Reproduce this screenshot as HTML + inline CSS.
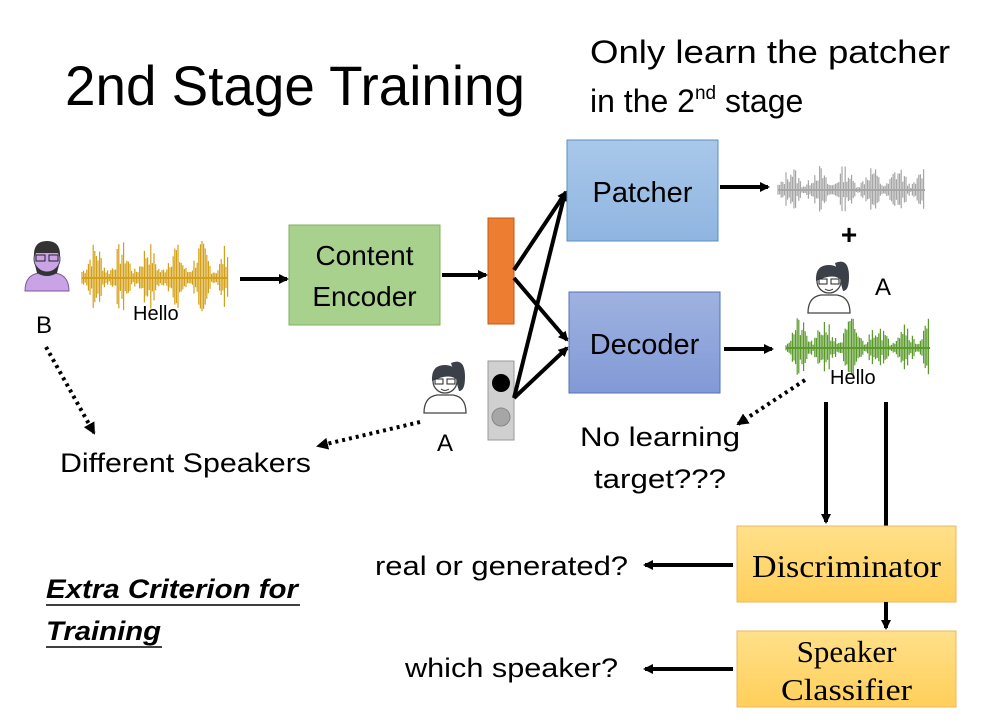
<!DOCTYPE html>
<html><head><meta charset="utf-8"><style>
html,body{margin:0;padding:0;background:#fff;}
svg{display:block;font-family:"Liberation Sans",sans-serif;}
</style></head><body>
<svg id="s" width="992" height="728" viewBox="0 0 992 728" xmlns="http://www.w3.org/2000/svg">
<defs>
<marker id="ah" markerWidth="10" markerHeight="10" refX="8" refY="5" orient="auto" markerUnits="userSpaceOnUse"><path d="M0,0 L10,5 L0,10 z" fill="#000"/></marker>
<marker id="ahs" markerWidth="12" markerHeight="12" refX="10" refY="6" orient="auto" markerUnits="userSpaceOnUse"><path d="M0,0 L12,6 L0,12 z" fill="#000"/></marker>
<linearGradient id="gp" x1="0" y1="0" x2="0" y2="1"><stop offset="0" stop-color="#a9c8ea"/><stop offset="1" stop-color="#8fb5e0"/></linearGradient>
<linearGradient id="gd" x1="0" y1="0" x2="0" y2="1"><stop offset="0" stop-color="#9fb2e0"/><stop offset="1" stop-color="#8199d6"/></linearGradient>
<linearGradient id="gy" x1="0" y1="0" x2="0" y2="1"><stop offset="0" stop-color="#ffe08a"/><stop offset="1" stop-color="#ffcf5a"/></linearGradient>
</defs>
<text x="65" y="105" font-size="56" fill="#000" textLength="460" lengthAdjust="spacingAndGlyphs">2nd Stage Training</text>
<text x="590" y="63" font-size="32" textLength="360" lengthAdjust="spacingAndGlyphs">Only learn the patcher</text>
<text x="590" y="112" font-size="32">in the 2<tspan font-size="19" dy="-13">nd</tspan><tspan dy="13"> stage</tspan></text>

<!-- B avatar -->
<g transform="translate(47,265)">
<path d="M-22,26 Q-22,10 -8,8 L8,8 Q22,10 22,26 Z" fill="#c9a3e6" stroke="#7a5a99"/>
<circle cx="0" cy="-6" r="13" fill="#c9a3e6" stroke="#444"/>
<path d="M-13,-8 Q-14,-24 0,-24 Q14,-24 13,-8 L11,-12 L-11,-12Z" fill="#333"/>
<path d="M-12,0 Q0,14 12,0 L10,8 Q0,14 -10,8Z" fill="#333"/>
<rect x="-11" y="-10" width="9" height="6" fill="none" stroke="#222"/><rect x="2" y="-10" width="9" height="6" fill="none" stroke="#222"/>
</g>
<text x="36" y="333" font-size="24">B</text>
<g id="w1"></g>
<text x="133" y="320" font-size="20">Hello</text>
<line x1="240" y1="279" x2="287" y2="279" stroke="#000" stroke-width="4" marker-end="url(#ah)"/>

<rect x="289" y="225" width="151" height="100" fill="#a9d18e" stroke="#7fb060"/>
<text x="364.5" y="265" font-size="28" text-anchor="middle">Content</text>
<text x="364.5" y="306" font-size="28" text-anchor="middle">Encoder</text>
<line x1="442" y1="275" x2="486" y2="275" stroke="#000" stroke-width="4" marker-end="url(#ah)"/>
<rect x="488" y="218" width="26" height="106" fill="#ed7d31" stroke="#c55a11"/>
<rect x="488" y="361" width="26" height="79" fill="#d0d0d0" stroke="#999"/>
<circle cx="501" cy="383" r="9" fill="#000"/>
<circle cx="501" cy="417" r="9" fill="#a6a6a6" stroke="#888"/>
<g stroke="#000" stroke-width="4">
<line x1="514" y1="270" x2="566" y2="192" marker-end="url(#ah)"/>
<line x1="514" y1="278" x2="567" y2="340" marker-end="url(#ah)"/>
<line x1="514" y1="398" x2="565" y2="193" marker-end="url(#ah)"/>
<line x1="514" y1="398" x2="567" y2="348" marker-end="url(#ah)"/>
</g>
<rect x="567" y="140" width="151" height="101" fill="url(#gp)" stroke="#5b8cc4"/>
<text x="642.5" y="202" font-size="29" text-anchor="middle">Patcher</text>
<rect x="569" y="292" width="151" height="101" fill="url(#gd)" stroke="#5670b8"/>
<text x="644.5" y="354" font-size="29" text-anchor="middle">Decoder</text>

<g id="a1" transform="translate(445,385)"></g>
<text x="437" y="451" font-size="24">A</text>
<line x1="420" y1="422" x2="318" y2="446" stroke="#000" stroke-width="4" stroke-dasharray="3,4" marker-end="url(#ahs)"/>
<line x1="46" y1="347" x2="94" y2="433" stroke="#000" stroke-width="4" stroke-dasharray="3,4" marker-end="url(#ahs)"/>
<text x="60" y="472" font-size="27" textLength="251" lengthAdjust="spacingAndGlyphs">Different Speakers</text>

<line x1="720" y1="187" x2="768" y2="187" stroke="#000" stroke-width="4" marker-end="url(#ah)"/>
<g id="w2"></g>
<text x="849" y="244" font-size="28" font-weight="bold" text-anchor="middle">+</text>
<g id="a2" transform="translate(829,285)"></g>
<text x="875" y="295" font-size="24">A</text>
<line x1="724" y1="349" x2="772" y2="349" stroke="#000" stroke-width="4" marker-end="url(#ah)"/>
<g id="w3"></g>
<text x="830" y="384" font-size="20">Hello</text>
<line x1="805" y1="380" x2="738" y2="424" stroke="#000" stroke-width="4" stroke-dasharray="3,4" marker-end="url(#ahs)"/>
<text x="660" y="446" font-size="27" text-anchor="middle" textLength="160" lengthAdjust="spacingAndGlyphs">No learning</text>
<text x="660" y="488" font-size="27" text-anchor="middle" textLength="132" lengthAdjust="spacingAndGlyphs">target???</text>

<line x1="826" y1="402" x2="826" y2="522" stroke="#000" stroke-width="4" marker-end="url(#ah)"/>
<line x1="886" y1="402" x2="886" y2="526" stroke="#000" stroke-width="4"/>
<rect x="737" y="526" width="219" height="76" fill="url(#gy)" stroke="#e8b860"/>
<text x="846.5" y="577" font-size="32" text-anchor="middle" font-family="Liberation Serif,serif" textLength="189" lengthAdjust="spacingAndGlyphs">Discriminator</text>
<line x1="733" y1="565" x2="645" y2="565" stroke="#000" stroke-width="4" marker-end="url(#ah)"/>
<text x="375" y="575" font-size="27" textLength="253" lengthAdjust="spacingAndGlyphs">real or generated?</text>
<line x1="886" y1="602" x2="886" y2="628" stroke="#000" stroke-width="4" marker-end="url(#ah)"/>
<rect x="737" y="631" width="219" height="76" fill="url(#gy)" stroke="#e8b860"/>
<text x="846.5" y="662" font-size="31" text-anchor="middle" font-family="Liberation Serif,serif">Speaker</text>
<text x="846.5" y="700" font-size="31" text-anchor="middle" font-family="Liberation Serif,serif" textLength="131" lengthAdjust="spacingAndGlyphs">Classifier</text>
<line x1="733" y1="669" x2="645" y2="669" stroke="#000" stroke-width="4" marker-end="url(#ah)"/>
<text x="405" y="677" font-size="27" textLength="213" lengthAdjust="spacingAndGlyphs">which speaker?</text>

<text x="46" y="598" font-size="27" font-weight="bold" font-style="italic" textLength="252" lengthAdjust="spacingAndGlyphs">Extra Criterion for</text>
<line x1="46" y1="605" x2="300" y2="605" stroke="#000" stroke-width="1.5"/>
<text x="46" y="640" font-size="27" font-weight="bold" font-style="italic" textLength="115" lengthAdjust="spacingAndGlyphs">Training</text>
<line x1="46" y1="647" x2="162" y2="647" stroke="#000" stroke-width="1.5"/>
</svg>
<script>
var NS="http://www.w3.org/2000/svg";
function wave(id,x0,x1,cy,amp,col,seed){
 var g=document.getElementById(id),s=seed,d="";
 function r(){s=(s*9301+49297)%233280;return s/233280;}
 for(var x=x0;x<=x1;x+=1.6){
  var env=0.25+0.75*Math.pow(Math.abs(Math.sin((x-x0)/(x1-x0)*Math.PI*5.5)),2);
  var a=amp*env*(0.3+0.7*r());
  d+="M"+x.toFixed(1)+","+(cy-a).toFixed(1)+"V"+(cy+a*0.9).toFixed(1);
 }
 var p=document.createElementNS(NS,"path");p.setAttribute("d",d);p.setAttribute("stroke",col);p.setAttribute("stroke-width","1.2");g.appendChild(p);
 var l=document.createElementNS(NS,"line");l.setAttribute("x1",x0);l.setAttribute("x2",x1);l.setAttribute("y1",cy);l.setAttribute("y2",cy);l.setAttribute("stroke",col);l.setAttribute("stroke-width","2");g.appendChild(l);
}
wave("w1",82,228,278,38,"#d4a017",7);
wave("w2",778,925,190,26,"#a6a6a6",13);
wave("w3",786,930,348,32,"#5a9a2a",21);
function girl(id){
 var g=document.getElementById(id);
 g.innerHTML='<path d="M-21,28 Q-21,12 -8,10 L8,10 Q21,12 21,28 Z" fill="#fff" stroke="#444" stroke-width="1.3"/>'+
 '<path d="M6,-22 Q20,-28 20,-8 Q20,6 14,6 Z" fill="#3b4048"/>'+
 '<circle cx="0" cy="-4" r="12" fill="#fff" stroke="#444" stroke-width="1.3"/>'+
 '<path d="M-13,-4 Q-14,-20 0,-20 Q13,-20 13,-4 Q6,-13 -13,-4Z" fill="#3b4048"/>'+
 '<rect x="-10" y="-6" width="8" height="5" fill="none" stroke="#222"/><rect x="2" y="-6" width="8" height="5" fill="none" stroke="#222"/>'+
 '<path d="M-4,4 Q0,7 4,4" fill="none" stroke="#333"/>';
}
girl("a1");girl("a2");
</script>
</body></html>
